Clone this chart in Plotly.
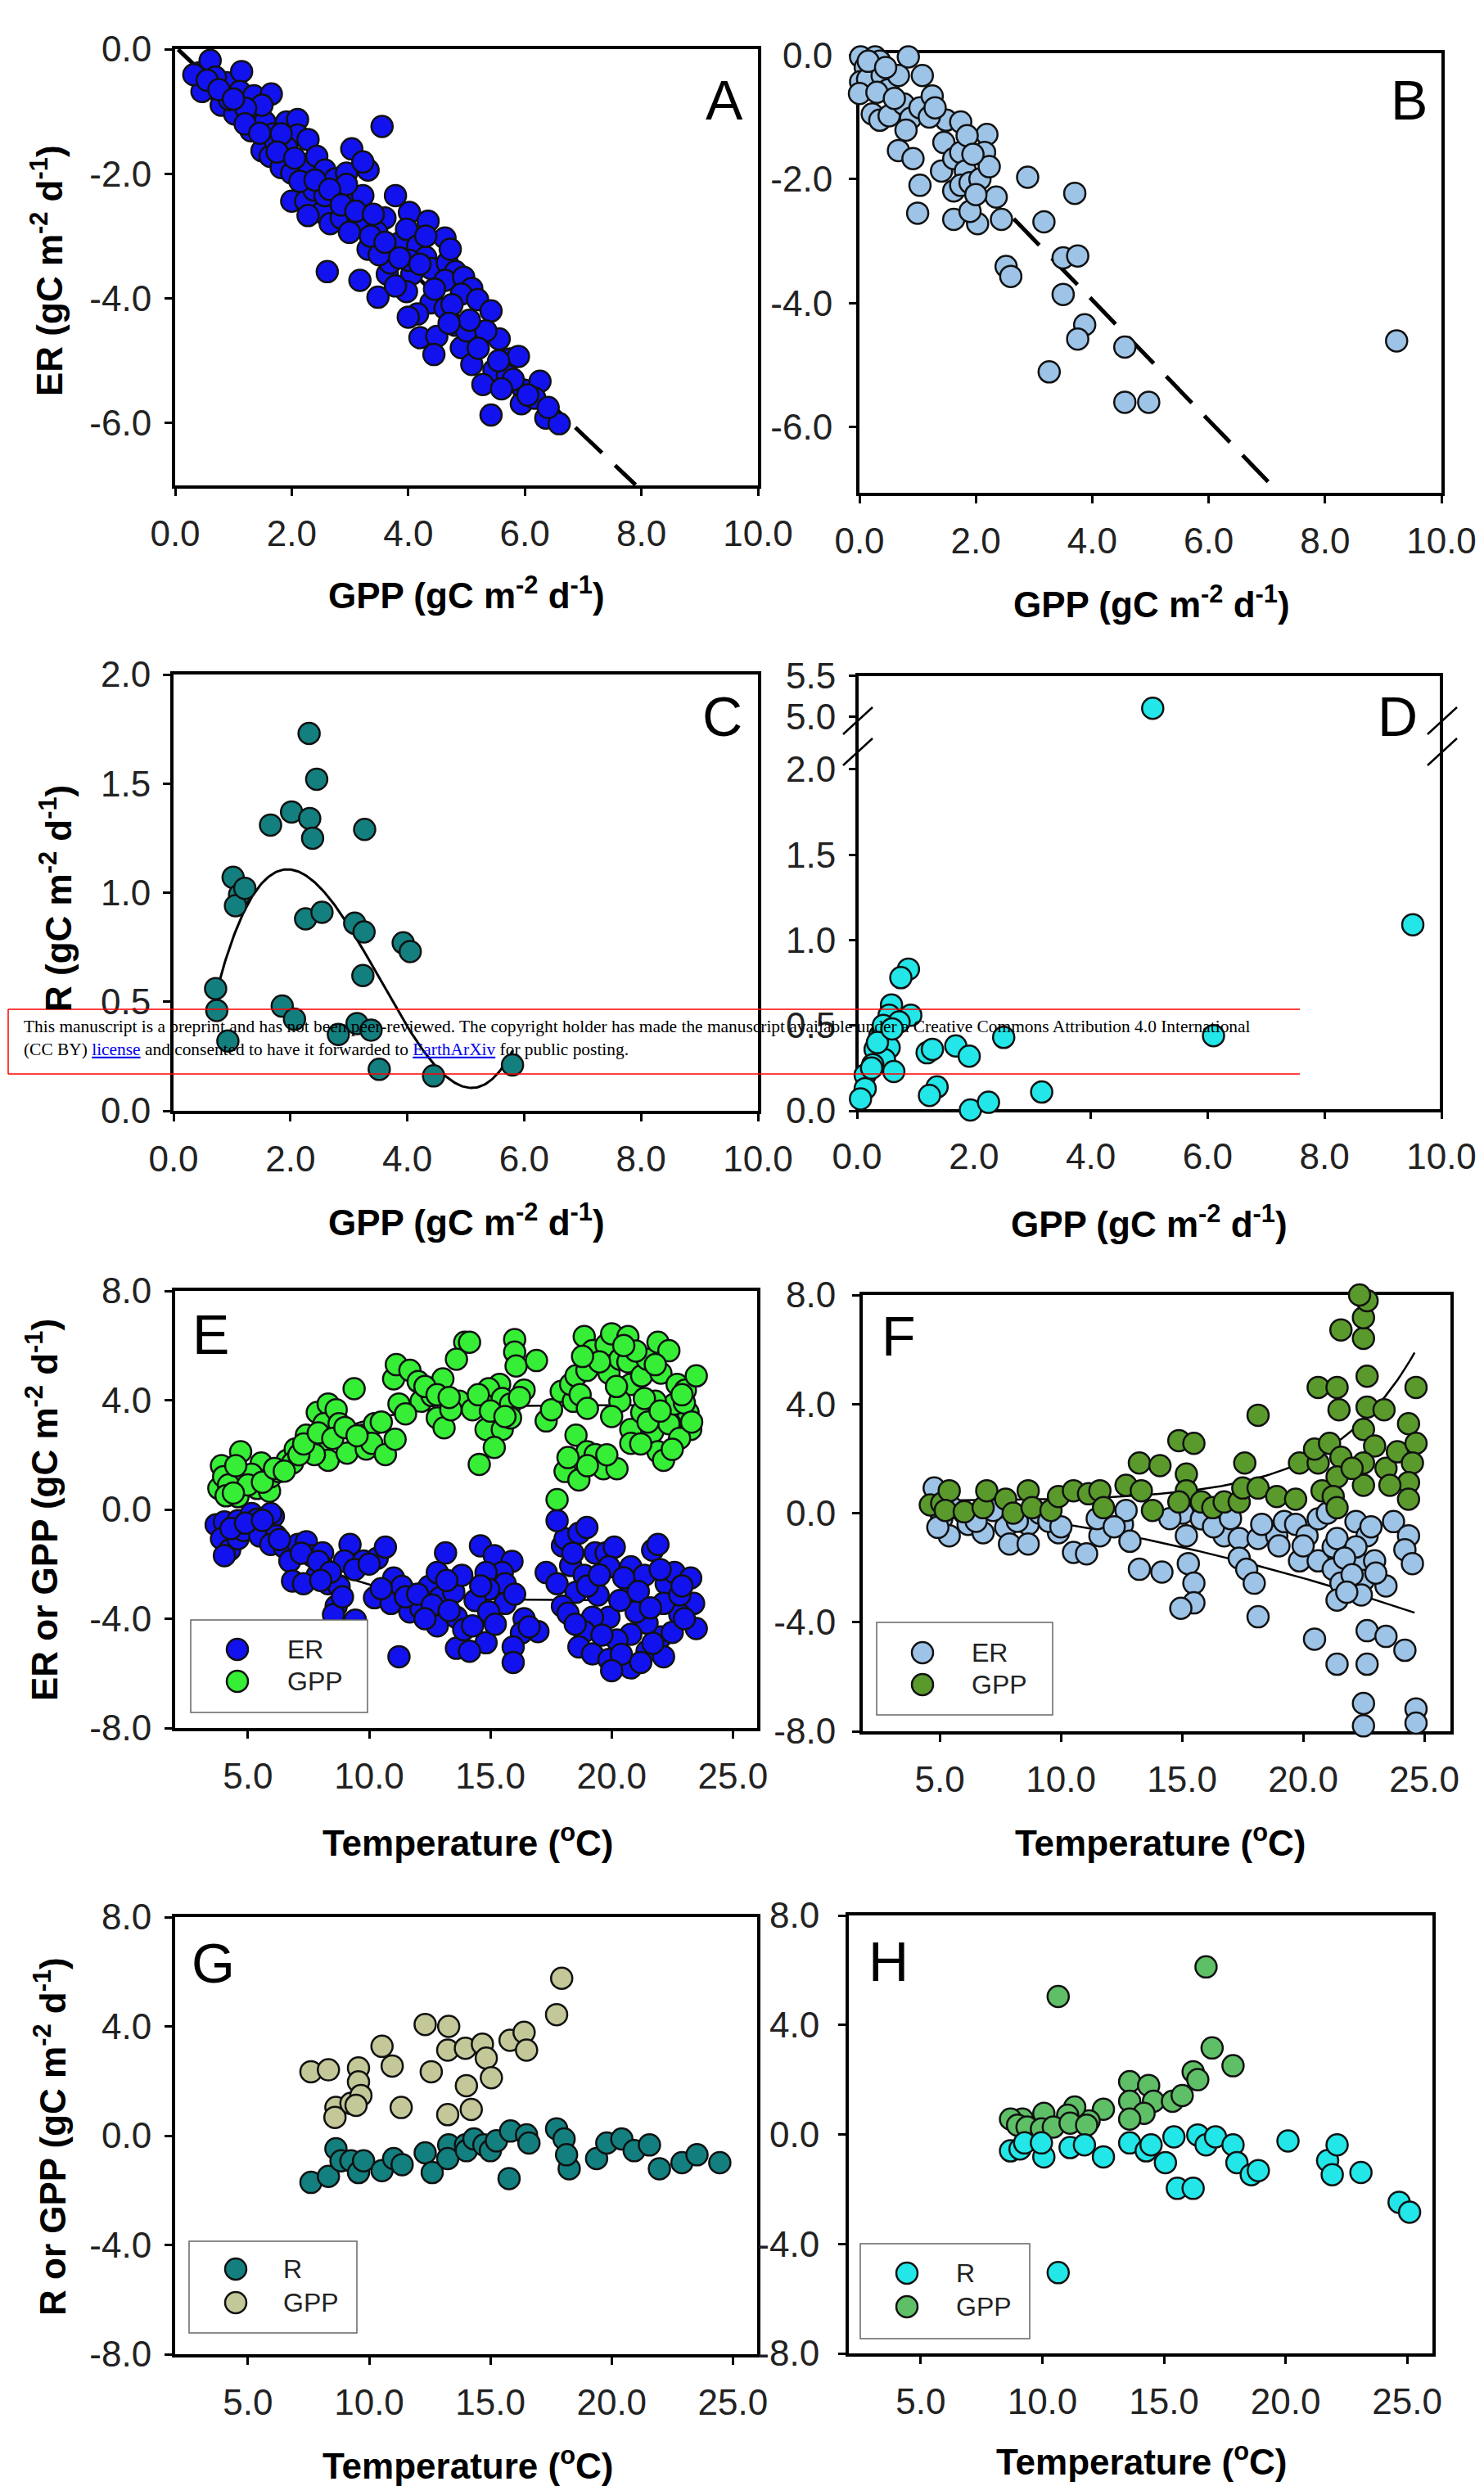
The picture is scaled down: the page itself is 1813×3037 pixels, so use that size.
import numpy as np
import plotly.graph_objects as go

W, H = 1813, 3037
SANS = "Liberation Sans, Arial, sans-serif"
SERIF = "Liberation Serif, Times New Roman, serif"

# ---------------- data ----------------
# A: daily ER vs GPP, site 1
A_GPP_ER = [(0.41,-0.38),(0.60,-0.18),(0.65,-0.63),(0.46,-0.68),(0.79,-0.90),(0.88,-0.54),(1.14,-0.36),(1.11,-0.68),
    (1.35,-0.75),(1.65,-0.72),(1.02,-1.04),(1.35,-1.08),(1.30,-1.31),(1.54,-1.17),(1.68,-1.36),(1.91,-1.17),(2.10,-1.13),
    (2.10,-1.38),(1.49,-1.63),(1.63,-1.72),(1.91,-1.58),(1.82,-1.90),(2.00,-1.99),(2.28,-1.45),(2.28,-1.85),(2.43,-1.72),
    (2.57,-1.94),(3.03,-1.60),(3.31,-1.94),(3.55,-1.24),(2.75,-2.08),(2.94,-1.99),(3.22,-1.81),(2.00,-2.44),(2.24,-2.44),
    (2.52,-2.62),(2.28,-2.67),(2.66,-2.80),(2.75,-2.35),(3.03,-2.44),(3.22,-2.35),(2.85,-2.71),(3.13,-2.80),(2.99,-2.94),
    (2.61,-3.57),(3.17,-3.71),(3.48,-3.98),(3.31,-3.21),(3.60,-2.71),(3.78,-2.35),(4.02,-2.62),(3.83,-3.12),(3.46,-2.94),
    (3.64,-3.61),(3.97,-2.89),(4.34,-2.76),(4.63,-3.03),(4.16,-3.16),(4.30,-3.34),(4.06,-3.61),(3.97,-3.89),(4.39,-3.52),
    (4.67,-3.43),(4.81,-3.57),(4.63,-3.71),(4.95,-3.66),(5.09,-3.84),(4.39,-4.07),(4.16,-4.25),(4.63,-4.16),(4.91,-3.93),
    (5.19,-4.02),(5.42,-4.20),(4.20,-4.63),(4.49,-4.61),(4.44,-4.90),(4.91,-4.79),(5.23,-4.61),(5.56,-4.65),(5.09,-5.06),
    (5.47,-5.15),(5.28,-5.38),(5.75,-4.97),(5.89,-4.93),(5.70,-5.24),(5.98,-5.47),(6.26,-5.33),(5.94,-5.69),(6.17,-5.60),
    (6.36,-5.92),(6.59,-6.01),(5.42,-5.87),(4.81,-4.43),(5.00,-4.52),(5.33,-4.52),(4.02,-3.39),(3.69,-3.43),(3.78,-3.80),
    (4.72,-3.21),(3.50,-3.30),(2.94,-2.17),(2.38,-2.26),(2.57,-2.35),(2.14,-2.12),(1.72,-1.49),(1.82,-1.36),(1.49,-0.90),
    (1.21,-0.95),(0.69,-0.45),(0.32,-0.41),(0.93,-0.81),(0.55,-0.50),(0.75,-0.65),(1.00,-0.80),(1.20,-1.20),(1.45,-1.35),
    (1.75,-1.65),(2.05,-1.75),(2.40,-2.10),(2.65,-2.25),(2.85,-2.50),(3.10,-2.60),(3.40,-2.65),(3.35,-3.00),(3.60,-3.10),
    (3.85,-3.35),(4.20,-3.45),(4.45,-3.85),(4.75,-4.10),(5.05,-4.35),(5.20,-4.80),(5.55,-5.00),(5.80,-5.30),(6.05,-5.55),
    (6.40,-5.75),(4.30,-3.00),(4.00,-4.30),(4.70,-4.40),(5.60,-5.45)]
A_FIT_INTERCEPT, A_FIT_SLOPE, A_FIT_X = 0.04, -0.89, [0.05, 7.90]

# B: daily ER vs GPP, site 2
B_GPP_ER = [(0.02,-0.03),(0.10,-0.20),(0.27,-0.03),(0.35,-0.10),(0.02,-0.43),(0.14,-0.39),(0.00,-0.62),(0.39,-0.33),
    (0.49,-0.56),(0.67,-0.33),(0.84,-0.03),(1.08,-0.33),(0.22,-0.95),(0.35,-1.05),(0.51,-0.98),(0.76,-0.79),(0.88,-1.02),
    (0.80,-1.21),(1.04,-0.85),(1.25,-0.66),(1.49,-1.05),(1.74,-1.08),(1.45,-1.41),(0.67,-1.54),(0.92,-1.67),(1.04,-2.10),
    (1.00,-2.55),(1.41,-1.87),(1.62,-1.67),(1.74,-1.57),(1.82,-1.87),(1.62,-2.19),(1.74,-2.10),(1.90,-2.06),(2.07,-2.00),
    (2.19,-1.28),(2.15,-1.57),(2.23,-1.80),(2.35,-2.29),(2.44,-2.65),(1.62,-2.65),(2.03,-2.72),(1.90,-2.52),(2.89,-1.97),
    (3.17,-2.69),(3.70,-2.23),(3.50,-3.27),(3.75,-3.24),(2.52,-3.41),(2.60,-3.57),(3.50,-3.86),(3.87,-4.35),(3.75,-4.58),
    (4.56,-4.71),(3.26,-5.11),(4.56,-5.60),(4.97,-5.60),(9.23,-4.61),(0.15,-0.10),(0.45,-0.20),(0.30,-0.60),(0.60,-0.70),
    (1.20,-1.00),(1.30,-0.85),(1.85,-1.30),(1.95,-1.60),(2.00,-2.25)]
B_FIT_INTERCEPT, B_FIT_SLOPE, B_FIT_X = -0.07, -0.97, [2.65, 7.15]

# C: daily R vs GPP, site 3
C_GPP_R = [(2.32,1.73),(2.45,1.52),(1.66,1.31),(2.02,1.37),(2.33,1.34),(2.38,1.25),(3.27,1.29),(1.02,1.07),(1.13,0.99),
    (1.06,0.94),(1.22,1.02),(2.26,0.88),(2.54,0.91),(3.10,0.86),(3.26,0.82),(3.24,0.62),(3.93,0.77),(4.05,0.73),(0.72,0.56),
    (0.74,0.46),(0.93,0.32),(1.86,0.48),(2.07,0.42),(2.82,0.35),(3.14,0.40),(3.38,0.37),(3.52,0.19),(4.45,0.16),(5.80,0.21)]
C_FIT_COEF = [-0.517, 1.909, -0.6768, 0.064]
C_FIT_X = [0.72, 5.80]

# D: daily R vs GPP, site 4 (broken y axis)
D_GPP_R = [(0.88,0.83),(0.75,0.78),(0.59,0.62),(0.55,0.56),(0.92,0.56),(0.72,0.52),(0.39,0.44),(0.55,0.37),(0.31,0.36),
    (0.47,0.30),(0.27,0.27),(0.63,0.23),(0.14,0.21),(0.14,0.13),(0.06,0.07),(1.20,0.34),(1.29,0.36),(1.69,0.38),
    (1.92,0.32),(2.51,0.43),(1.37,0.14),(1.24,0.09),(1.94,0.005),(2.25,0.05),(3.16,0.11),(6.10,0.44),(9.51,1.09),
    (0.45,0.50),(0.35,0.40),(0.25,0.25),(0.60,0.48)]
D_GPP_R_HIGH = [(5.06,5.10)]

# E: ER and GPP vs water temperature, site 1
E_TEMP_ER = [(3.69,-0.56),(4.03,-0.46),(4.59,-0.41),(5.15,-0.15),(5.38,-0.36),(5.72,-0.66),(6.05,-0.25),(5.94,-0.15),
    (3.91,-1.07),(4.25,-1.48),(4.03,-1.69),(4.59,-1.07),(4.82,-0.77),(5.49,-0.97),(6.17,-0.97),(5.94,-1.28),(6.50,-1.38),
    (6.73,-1.89),(7.07,-1.28),(7.41,-1.18),(7.63,-1.69),(8.08,-1.59),(8.08,-2.10),(7.86,-2.41),(6.84,-2.62),(7.29,-2.72),
    (8.31,-2.72),(8.76,-2.82),(8.64,-3.54),(8.53,-3.85),(9.21,-1.28),(8.98,-1.89),(9.77,-1.89),(10.33,-1.79),(10.67,-1.38),
    (11.01,-2.51),(10.22,-3.23),(10.90,-3.44),(11.35,-2.82),(11.68,-3.75),(12.14,-3.64),(12.47,-2.82),(12.81,-2.31),
    (13.15,-1.59),(12.92,-3.23),(12.81,-4.26),(13.49,-3.03),(13.82,-2.41),(13.60,-3.95),(13.60,-5.08),(11.23,-5.39),
    (9.43,-4.05),(4.30,-0.70),(4.90,-0.50),(5.60,-0.40),(6.30,-1.10),(7.20,-1.60),(7.90,-1.90),(8.40,-2.30),(9.40,-2.20),
    (10.00,-2.00),(10.50,-2.90),(11.50,-3.20),(12.00,-3.10),(12.60,-3.50),(13.20,-2.60),(13.30,-3.70),(13.90,-4.40),
    (8.90,-3.20),(8.00,-2.60),(12.30,-4.00),
    (14.59,-1.33),(15.16,-1.69),(15.89,-1.90),(15.49,-2.31),(14.82,-2.31),(15.61,-2.72),(14.93,-2.92),(14.37,-3.33),
    (15.61,-3.44),(16.39,-4.00),(16.96,-4.47),(16.28,-4.52),(15.94,-5.03),(15.94,-5.60),(14.82,-4.88),(14.14,-5.19),
    (14.26,-4.26),(14.93,-3.75),(17.30,-2.31),(17.75,-2.72),(17.97,-1.33),(18.08,-1.07),(18.65,-0.87),(18.98,-0.66),
    (17.75,-0.41),(18.31,-2.05),(18.87,-2.41),(18.53,-3.03),(19.32,-1.59),(19.77,-1.59),(20.11,-1.38),(19.89,-2.10),
    (20.79,-2.10),(20.79,-2.72),(21.35,-2.41),(21.69,-1.49),(21.91,-1.28),(22.25,-2.72),(22.59,-2.31),(23.26,-2.51),
    (23.38,-3.44),(23.49,-4.36),(22.81,-3.85),(22.14,-3.44),(22.03,-4.67),(21.46,-4.16),(21.01,-3.75),(20.79,-4.57),
    (20.22,-4.78),(19.89,-3.95),(19.21,-3.95),(18.87,-4.47),(18.65,-5.03),(19.21,-5.29),(19.89,-5.49),(20.79,-5.80),
    (21.46,-5.19),(22.14,-5.39),(22.81,-3.13),(19.44,-3.13),(20.34,-3.33),(17.97,-3.54),(14.60,-2.80),(15.20,-4.20),
    (16.00,-3.10),(16.60,-4.30),(18.20,-3.80),(18.40,-1.60),(19.00,-2.80),(19.60,-4.60),(20.40,-5.30),(20.50,-2.50),
    (21.10,-3.00),(21.60,-3.60),(22.00,-2.20),(22.50,-4.50),(23.00,-4.00),(21.20,-5.60),(20.00,-5.90),(19.50,-2.40),
    (22.90,-2.80),(21.70,-4.90),(18.50,-4.20)]
E_TEMP_GPP = [(4.70,2.11),(4.36,1.39),(4.70,1.13),(3.91,1.60),(3.80,0.77),(4.59,0.47),(5.38,0.77),(5.89,0.67),(5.55,1.70),
    (5.15,1.29),(5.94,1.19),(6.28,1.39),(6.62,1.80),(6.95,2.21),(6.84,1.70),(7.41,2.72),(7.63,2.21),(7.86,3.55),(8.31,3.86),
    (8.14,3.14),(8.64,3.65),(8.76,3.14),(8.19,2.51),(8.31,1.80),(7.74,2.01),(9.09,2.06),(9.38,4.42),(9.77,2.72),(9.88,2.21),
    (10.22,3.14),(10.11,2.42),(10.67,2.01),(11.07,2.57),(11.23,3.86),(11.01,4.78),(11.12,5.30),(11.68,5.09),(12.02,4.68),
    (12.14,3.96),(12.59,4.17),(12.81,3.35),(13.09,2.99),(13.04,4.78),(13.94,6.12),(13.60,5.50),(13.71,3.96),(13.37,3.65),
    (4.00,1.20),(4.20,0.90),(4.50,1.60),(5.00,0.90),(5.60,1.00),(6.10,1.50),(6.50,1.40),(7.10,2.00),(7.30,2.40),(7.90,2.80),
    (8.50,2.60),(9.00,3.00),(9.50,2.70),(10.50,3.20),(11.50,3.50),(12.30,4.50),(12.80,4.20),(13.30,4.10),(4.10,0.50),
    (4.40,0.60),
    (14.14,6.12),(16.00,6.22),(16.00,5.76),(16.06,5.25),(16.90,5.45),(15.38,4.58),(14.93,4.42),(14.71,3.86),(15.49,4.06),
    (15.83,3.86),(16.39,4.37),(14.26,3.65),(14.82,2.93),(15.49,2.93),(15.83,3.35),(15.16,2.27),(14.54,1.65),(17.30,3.24),
    (17.52,3.65),(17.92,4.32),(18.42,3.96),(18.31,4.58),(18.53,4.89),(18.87,6.33),(18.98,5.09),(19.21,5.81),(19.77,6.02),
    (20.00,6.43),(20.67,6.33),(19.89,4.99),(20.34,5.50),(20.67,5.40),(20.79,4.58),(21.24,4.89),(21.46,5.50),(21.91,6.12),
    (22.03,4.99),(22.36,5.81),(20.34,3.96),(20.79,2.93),(20.79,2.42),(21.24,3.55),(21.69,2.83),(21.91,2.11),(22.14,1.80),
    (22.36,3.14),(22.70,4.58),(23.04,4.37),(23.15,3.55),(23.49,4.89),(23.26,2.93),(18.53,2.72),(18.98,2.11),(19.32,2.01),
    (19.66,1.49),(20.22,1.49),(18.08,1.39),(18.65,1.08),(17.75,0.36),(22.59,3.86),(21.80,3.96),(21.35,4.06),(14.50,4.20),
    (15.00,3.60),(15.60,3.40),(16.20,4.10),(18.70,4.20),(19.00,3.70),(19.50,5.40),(20.20,4.50),(21.00,5.80),(21.50,3.20),
    (22.00,3.60),(22.80,2.60),(23.00,3.90),(19.80,2.00),(19.00,1.60),(21.20,2.40),(22.50,2.20),(18.20,1.90),(18.80,5.60),
    (20.50,6.00),(21.80,5.30),(22.90,4.20),(20.00,3.40),(23.30,3.20)]
E_GPP_FIT = dict(top=3.82, k=0.497, t0=6.37)
E_ER_FIT = dict(top=-3.33, k=0.50, t0=6.90)
E_FIT_T = [3.8, 23.5]

# F: ER and GPP vs water temperature, site 2
F_TEMP_ER = [(4.77,0.92),(4.92,0.20),(5.08,-0.21),(5.39,-0.83),(4.92,-0.52),(6.01,0.00),(6.17,-0.41),(6.79,-0.72),
    (7.72,-0.52),(7.88,-1.13),(8.65,-0.41),(8.65,-1.13),(9.12,0.00),(9.90,-0.72),(10.52,-1.44),(11.06,-1.49),(11.61,-0.83),
    (12.54,-0.41),(12.69,0.10),(12.85,-1.03),(13.24,-2.06),(14.17,-2.16),(15.03,0.00),(15.18,-0.83),(15.26,-1.85),
    (15.49,-2.57),(15.49,-3.29),(14.95,-3.49),(15.80,-0.21),(16.74,-0.83),(17.36,-0.93),(18.14,-0.93),(18.91,-0.83),
    (17.36,-1.65),(17.67,-2.06),(17.98,-2.57),(18.14,-3.80),(18.29,-0.41),(19.22,-0.31),(19.69,-0.41),(20.16,-0.83),
    (19.85,-1.75),(20.62,-1.75),(20.62,-0.21),(21.24,-1.24),(21.40,-0.93),(21.24,-2.06),(21.56,-2.57),(21.40,-3.19),
    (22.33,-1.85),(22.49,-2.47),(22.18,-0.31),(22.64,-0.83),(22.18,-1.24),(22.95,-1.75),(23.42,-2.67),(23.73,-0.31),
    (24.35,-0.83),(24.20,-1.34),(24.51,-1.85),(20.47,-4.62),(21.40,-5.54),(22.64,-5.54),(22.64,-4.31),(23.42,-4.52),
    (24.20,-5.03),(22.49,-6.98),(24.66,-7.18),(22.49,-7.80),(24.66,-7.70),(21.71,-1.65),(22.02,-2.26),(5.50,0.20),
    (6.50,-0.30),(7.20,0.10),(8.20,-0.30),(9.50,-0.30),(10.00,-0.50),(11.50,-0.20),(12.20,-0.50),(14.50,-0.20),
    (16.30,-0.50),(17.00,-0.20),(19.00,-1.20),(20.00,-1.20),(21.00,0.00),(22.40,-3.00),(21.80,-2.90),(23.00,-2.20),
    (22.80,-0.50),(22.60,-8.05)]
F_TEMP_GPP = [(4.61,0.30),(5.08,0.36),(5.39,0.82),(5.23,0.10),(6.01,0.05),(6.79,0.20),(6.94,0.82),(7.72,0.51),(8.03,0.00),
    (8.65,0.82),(8.81,0.20),(9.59,0.10),(9.90,0.61),(10.52,0.82),(11.14,0.71),(11.61,0.82),(11.76,0.20),(12.69,1.02),
    (13.32,0.82),(13.78,0.10),(13.24,1.84),(14.09,1.74),(14.87,2.66),(15.49,2.56),(15.18,1.43),(15.18,0.82),(14.87,0.41),
    (15.80,0.41),(16.27,0.20),(16.74,0.41),(17.36,0.41),(17.51,0.92),(17.59,1.84),(18.14,0.92),(18.91,0.61),(19.69,0.51),
    (18.14,3.59),(19.85,1.84),(20.62,1.84),(20.47,2.35),(21.09,2.56),(21.56,2.05),(20.78,0.82),(21.40,1.33),(21.24,0.61),
    (21.40,0.20),(20.62,4.61),(21.40,4.61),(21.48,3.79),(22.49,3.07),(22.64,3.89),(23.34,3.79),(22.64,5.02),(21.56,6.72),
    (22.49,6.41),(22.49,7.17),(22.64,7.79),(22.33,8.00),(22.95,2.46),(22.49,1.84),(23.42,1.64),(23.89,2.25),(24.35,3.28),
    (24.66,2.56),(24.51,1.84),(24.35,1.12),(24.35,0.51),(23.58,1.02),(22.49,1.02),(24.66,4.61),(22.02,1.64)]
F_GPP_FIT = dict(c=0.443, a=0.00456, b=0.288)
F_ER_FIT_COEF = [0.6175, -0.048, -0.0051]
F_FIT_T = [4.6, 24.6]

# G: R and GPP vs water temperature, site 3
G_TEMP_R = [(7.60,-1.71),(8.32,-1.49),(8.63,-0.48),(8.84,-0.92),(9.25,-0.92),(9.56,-1.35),(9.77,-0.92),(10.53,-1.28),
    (11.01,-0.84),(11.36,-1.06),(12.31,-0.63),(12.60,-1.35),(13.28,-0.34),(13.24,-0.84),(13.97,-0.34),(14.01,-0.55),
    (14.32,-0.12),(14.73,-0.34),(15.00,-0.55),(15.25,-0.19),(15.83,0.17),(15.77,-1.57),(16.49,0.03),(16.59,-0.27),
    (17.73,0.25),(18.04,-0.12),(18.25,-1.21),(18.14,-0.70),(19.38,-0.84),(19.80,-0.27),(20.42,-0.12),(20.93,-0.55),
    (21.56,-0.34),(21.97,-1.21),(22.90,-0.99),(23.52,-0.70),(24.46,-0.99)]
G_TEMP_GPP = [(7.60,2.34),(8.32,2.41),(8.63,1.03),(8.59,0.67),(9.25,1.18),(9.56,2.48),(9.56,1.97),(9.66,1.47),(9.46,1.11),
    (10.53,3.27),(10.95,2.55),(11.32,1.03),(12.31,4.07),(12.56,2.34),(13.28,4.00),(13.24,3.13),(13.24,0.77),(13.97,3.20),
    (14.01,1.83),(14.21,0.96),(14.67,3.35),(14.83,2.84),(15.04,2.12),(15.81,3.49),(16.39,3.78),(16.49,3.13),(17.73,4.43),
    (17.94,5.76)]

# H: R and GPP vs water temperature, site 4
H_TEMP_R = [(8.69,-0.60),(9.08,-0.53),(9.27,-0.31),(10.06,-0.82),(9.96,-0.31),(11.14,-0.48),(11.73,-0.38),(12.51,-0.82),
    (13.59,-0.31),(14.27,-0.60),(14.47,-0.38),(15.06,-1.03),(15.41,-0.09),(15.55,-1.97),(16.20,-1.97),(16.39,-0.02),
    (16.73,-0.38),(17.12,-0.09),(17.84,-0.38),(18.00,-1.03),(18.59,-1.47),(18.88,-1.32),(20.10,-0.24),(21.73,-0.96),
    (21.92,-1.47),(22.12,-0.38),(23.10,-1.39),(24.67,-2.48),(25.10,-2.84),(10.65,-5.05)]
H_TEMP_GPP = [(10.65,5.04),(16.73,6.12),(16.98,3.16),(17.84,2.51),(16.20,2.29),(16.39,2.00),(13.59,1.93),(14.37,1.79),
    (13.59,1.21),(14.57,1.21),(15.35,1.21),(15.75,1.42),(14.18,0.77),(13.59,0.56),(12.51,0.92),(11.92,0.49),(11.33,1.00),
    (11.04,0.70),(10.06,0.77),(9.18,0.56),(8.69,0.56),(8.98,0.34),(9.37,0.27),(9.96,0.20),(10.45,0.27),(11.14,0.41),
    (11.82,0.34)]

# tick labels
GPP_TICKS = [0, 2, 4, 6, 8, 10]
GPP_TICKTEXT = ["0.0", "2.0", "4.0", "6.0", "8.0", "10.0"]
ER_TICKS = [0, -2, -4, -6]
ER_TICKTEXT = ["0.0", "-2.0", "-4.0", "-6.0"]
R_TICKS = [0, 0.5, 1.0, 1.5, 2.0]
R_TICKTEXT = ["0.0", "0.5", "1.0", "1.5", "2.0"]
R_HIGH_TICKS = [5.0, 5.5]
R_HIGH_TICKTEXT = ["5.0", "5.5"]
TEMP_TICKS = [5, 10, 15, 20, 25]
TEMP_TICKTEXT = ["5.0", "10.0", "15.0", "20.0", "25.0"]
FLUX_TICKS = [-8, -4, 0, 4, 8]
FLUX_TICKTEXT = ["-8.0", "-4.0", "0.0", "4.0", "8.0"]

# ---------------- colours ----------------
BLUE = "#1212EE"
LIGHTBLUE = "#9DC3E6"
TEAL = "#137F7F"
CYAN = "#22E6E8"
LIME = "#36EE36"
OLIVE = "#5A9A2C"
KHAKI = "#C4C898"
MIDGREEN = "#5FBF66"

# ---------------- layout geometry (pixels) ----------------
BOX = {
    "A": (214, 60, 926, 593),
    "B": (1050, 65, 1761, 602),
    "C": (212, 824, 926, 1357),
    "D": (1047, 824, 1761, 1357),
    "E": (214, 1577, 925, 2111),
    "F": (1054, 1582, 1772, 2115),
    "G": (214, 2342, 925, 2876),
    "H": (1037, 2340, 1750, 2875),
}
D_LOW_TOP, D_HIGH_BOTTOM = 919, 881


def fx(px):
    return px / W


def fy(py):
    return 1 - py / H


def xdom(key):
    l, t, r, b = BOX[key]
    return [fx(l), fx(r)]


def ydom(top, bottom):
    return [fy(bottom), fy(top)]


def unzip(points):
    return [p[0] for p in points], [p[1] for p in points]


TICK_SIZE = 44


def axis_style(**kw):
    d = dict(showgrid=False, zeroline=False, ticks="outside", ticklen=9, tickwidth=2.5,
             tickcolor="black", showline=True, mirror=True, linecolor="black", linewidth=4,
             layer="below traces", tickmode="array", automargin=False,
             tickfont=dict(family=SANS, size=TICK_SIZE, color="#222"))
    d.update(kw)
    return d


fig = go.Figure()

MARK_SIZE = 26
MARK_LINE = dict(color="#111", width=2.5)


def pts(points, color, xa, ya):
    x, y = unzip(points)
    fig.add_trace(go.Scatter(x=x, y=y, mode="markers", xaxis=xa, yaxis=ya, cliponaxis=False,
                             marker=dict(size=MARK_SIZE, color=color, line=MARK_LINE),
                             hoverinfo="skip"))


def curve(x, y, xa, ya, dash="solid", width=2.5):
    fig.add_trace(go.Scatter(x=x, y=y, mode="lines", xaxis=xa, yaxis=ya,
                             line=dict(color="black", width=width, dash=dash), hoverinfo="skip"))


# A
xa = np.array(A_FIT_X)
curve(xa, A_FIT_INTERCEPT + A_FIT_SLOPE * xa, "x", "y", dash="45px,22px", width=5)
pts(A_GPP_ER, BLUE, "x", "y")
# B
xb = np.array(B_FIT_X)
curve(xb, B_FIT_INTERCEPT + B_FIT_SLOPE * xb, "x2", "y2", dash="45px,22px", width=5)
pts(B_GPP_ER, LIGHTBLUE, "x2", "y2")
# C
xc = np.linspace(C_FIT_X[0], C_FIT_X[1], 200)
curve(xc, np.polyval(C_FIT_COEF[::-1], xc), "x3", "y3", width=3)
pts(C_GPP_R, TEAL, "x3", "y3")
# D
pts(D_GPP_R, CYAN, "x4", "y4")
pts(D_GPP_R_HIGH, CYAN, "x4", "y9")
# E
te = np.linspace(E_FIT_T[0], E_FIT_T[1], 200)
curve(te, E_GPP_FIT["top"] / (1 + np.exp(-E_GPP_FIT["k"] * (te - E_GPP_FIT["t0"]))), "x5", "y5")
curve(te, E_ER_FIT["top"] / (1 + np.exp(-E_ER_FIT["k"] * (te - E_ER_FIT["t0"]))), "x5", "y5")
pts(E_TEMP_ER, BLUE, "x5", "y5")
pts(E_TEMP_GPP, LIME, "x5", "y5")
# F
tf = np.linspace(F_FIT_T[0], F_FIT_T[1], 200)
curve(tf, F_GPP_FIT["c"] + F_GPP_FIT["a"] * np.exp(F_GPP_FIT["b"] * tf), "x6", "y6")
curve(tf, np.polyval(F_ER_FIT_COEF[::-1], tf), "x6", "y6")
pts(F_TEMP_ER, LIGHTBLUE, "x6", "y6")
pts(F_TEMP_GPP, OLIVE, "x6", "y6")
# G
pts(G_TEMP_GPP, KHAKI, "x7", "y7")
pts(G_TEMP_R, TEAL, "x7", "y7")
# H
pts(H_TEMP_GPP, MIDGREEN, "x8", "y8")
pts(H_TEMP_R, CYAN, "x8", "y8")

X_STANDOFF = 8
layout = dict(
    width=W, height=H, margin=dict(l=0, r=0, t=0, b=0, autoexpand=False), showlegend=False,
    plot_bgcolor="white", paper_bgcolor="white",
    xaxis=axis_style(domain=xdom("A"), range=[0, 10], anchor="y", tickvals=GPP_TICKS, ticktext=GPP_TICKTEXT,
                     ticklabelstandoff=X_STANDOFF),
    yaxis=axis_style(domain=ydom(BOX["A"][1], BOX["A"][3]), range=[-7, 0], anchor="x", tickvals=ER_TICKS,
                     ticktext=ER_TICKTEXT, ticklabelstandoff=7),
    xaxis2=axis_style(domain=xdom("B"), range=[0, 10], anchor="y2", tickvals=GPP_TICKS, ticktext=GPP_TICKTEXT,
                      ticklabelstandoff=X_STANDOFF),
    yaxis2=axis_style(domain=ydom(BOX["B"][1], BOX["B"][3]), range=[-7.06, 0.03], anchor="x2", tickvals=ER_TICKS,
                      ticktext=ER_TICKTEXT, ticklabelstandoff=11),
    xaxis3=axis_style(domain=xdom("C"), range=[0, 10], anchor="y3", tickvals=GPP_TICKS, ticktext=GPP_TICKTEXT,
                      ticklabelstandoff=X_STANDOFF),
    yaxis3=axis_style(domain=ydom(BOX["C"][1], BOX["C"][3]), range=[0, 2], anchor="x3", tickvals=R_TICKS,
                      ticktext=R_TICKTEXT, ticklabelstandoff=6),
    xaxis4=axis_style(domain=xdom("D"), range=[0, 10], anchor="y4", tickvals=GPP_TICKS, ticktext=GPP_TICKTEXT,
                      ticklabelstandoff=X_STANDOFF, showline=False, mirror=False),
    yaxis4=axis_style(domain=ydom(D_LOW_TOP, BOX["D"][3]), range=[0, 2.10], anchor="x4", tickvals=R_TICKS,
                      ticktext=R_TICKTEXT, ticklabelstandoff=7, showline=False, mirror=False),
    yaxis9=axis_style(domain=ydom(BOX["D"][1], D_HIGH_BOTTOM), range=[4.94, 5.52], anchor="x4",
                      tickvals=R_HIGH_TICKS, ticktext=R_HIGH_TICKTEXT, ticklabelstandoff=7,
                      showline=False, mirror=False),
    xaxis5=axis_style(domain=xdom("E"), range=[2, 26], anchor="y5", tickvals=TEMP_TICKS, ticktext=TEMP_TICKTEXT,
                      ticklabelstandoff=X_STANDOFF),
    yaxis5=axis_style(domain=ydom(BOX["E"][1], BOX["E"][3]), range=[-8, 8], anchor="x5", tickvals=FLUX_TICKS,
                      ticktext=FLUX_TICKTEXT, ticklabelstandoff=7),
    xaxis6=axis_style(domain=xdom("F"), range=[1.82, 26.08], anchor="y6", tickvals=TEMP_TICKS,
                      ticktext=TEMP_TICKTEXT, ticklabelstandoff=X_STANDOFF),
    yaxis6=axis_style(domain=ydom(BOX["F"][1], BOX["F"][3]), range=[-8, 8], anchor="x6", tickvals=FLUX_TICKS,
                      ticktext=FLUX_TICKTEXT, ticklabelstandoff=11),
    xaxis7=axis_style(domain=xdom("G"), range=[2, 26], anchor="y7", tickvals=TEMP_TICKS, ticktext=TEMP_TICKTEXT,
                      ticklabelstandoff=X_STANDOFF),
    yaxis7=axis_style(domain=ydom(BOX["G"][1], BOX["G"][3]), range=[-8, 8], anchor="x7", tickvals=FLUX_TICKS,
                      ticktext=FLUX_TICKTEXT, ticklabelstandoff=7),
    xaxis8=axis_style(domain=xdom("H"), range=[2.04, 26.04], anchor="y8", tickvals=TEMP_TICKS,
                      ticktext=TEMP_TICKTEXT, ticklabelstandoff=X_STANDOFF),
    yaxis8=axis_style(domain=ydom(BOX["H"][1], BOX["H"][3]), range=[-8, 8], anchor="x8", tickvals=FLUX_TICKS,
                      ticktext=FLUX_TICKTEXT, ticklabelstandoff=14),
)
fig.update_layout(**layout)

annotations = []
shapes = []


def ann(text, px, py, size, angle=0, family=SANS, xanchor="center", color="black"):
    annotations.append(dict(text=text, x=fx(px), y=fy(py), xref="paper", yref="paper", showarrow=False,
                            xanchor=xanchor, yanchor="middle", textangle=angle,
                            font=dict(family=family, size=size, color=color)))


UNITS = " (gC m<sup>-2</sup> d<sup>-1</sup>)"
TITLE_SIZE = 44
# y titles
ann("<b>ER" + UNITS + "</b>", 57, 331, TITLE_SIZE, angle=-90)
ann("<b>R" + UNITS + "</b>", 68, 1098, TITLE_SIZE, angle=-90)
ann("<b>ER or GPP" + UNITS + "</b>", 52, 1845, TITLE_SIZE, angle=-90)
ann("<b>R or GPP" + UNITS + "</b>", 61, 2610, TITLE_SIZE, angle=-90)
# x titles
for px, py in [(570, 724), (1407, 736), (570, 1490), (1404, 1492)]:
    ann("<b>GPP" + UNITS + "</b>", px, py, TITLE_SIZE)
for px, py in [(571, 2248), (1417, 2248), (571, 3009), (1394, 3004)]:
    ann("<b>Temperature (<sup>o</sup>C)</b>", px, py, TITLE_SIZE)
# panel letters
for letter, px, py in [("A", 885, 122), ("B", 1721, 122), ("C", 882, 875), ("D", 1707, 875),
                       ("E", 257, 1630), ("F", 1098, 1632), ("G", 260, 2398), ("H", 1085, 2396)]:
    ann(letter, px, py, 68)

# legends
LEGENDS = [
    ((233, 1979, 449, 2092), 290, 349, [(2015, BLUE, "ER"), (2054, LIME, "GPP")]),
    ((1071, 1982, 1286, 2095), 1127, 1185, [(2019, LIGHTBLUE, "ER"), (2058, OLIVE, "GPP")]),
    ((231, 2738, 436, 2850), 288, 344, [(2772, TEAL, "R"), (2813, KHAKI, "GPP")]),
    ((1051, 2741, 1258, 2857), 1108, 1166, [(2777, CYAN, "R"), (2818, MIDGREEN, "GPP")]),
]
R_LEG = 13
for (l, t, r, b), mx, tx, rows in LEGENDS:
    shapes.append(dict(type="rect", xref="paper", yref="paper", x0=fx(l), x1=fx(r), y0=fy(b), y1=fy(t),
                       line=dict(color="#666", width=1.5), fillcolor="white", layer="above"))
    for py, col, label in rows:
        shapes.append(dict(type="circle", xref="paper", yref="paper", x0=fx(mx - R_LEG), x1=fx(mx + R_LEG),
                           y0=fy(py + R_LEG), y1=fy(py - R_LEG), line=dict(color="#111", width=2.5),
                           fillcolor=col, layer="above"))
        ann(label, tx, py, 32, xanchor="left", color="#222")

# D: frame and axis-break marks
l, t, r, b = BOX["D"]
shapes.append(dict(type="rect", xref="paper", yref="paper", x0=fx(l), x1=fx(r), y0=fy(b), y1=fy(t),
                   line=dict(color="black", width=4), layer="below"))
for cx in (l, r):
    for cy in (D_HIGH_BOTTOM, D_LOW_TOP):
        shapes.append(dict(type="line", xref="paper", yref="paper", x0=fx(cx - 17), x1=fx(cx + 19),
                           y0=fy(cy + 16), y1=fy(cy - 17), line=dict(color="black", width=2.5), layer="above"))

# preprint notice
NOTICE_L, NOTICE_T, NOTICE_R, NOTICE_B = 10, 1233, 1588, 1312
for x0, y0, x1, y1 in [(NOTICE_L, NOTICE_T, NOTICE_R, NOTICE_T), (NOTICE_L, NOTICE_B, NOTICE_R, NOTICE_B),
                       (NOTICE_L, NOTICE_T, NOTICE_L, NOTICE_B)]:
    shapes.append(dict(type="line", xref="paper", yref="paper", x0=fx(x0), x1=fx(x1), y0=fy(y0), y1=fy(y1),
                       line=dict(color="#FF0000", width=1.5), layer="above"))
LINK = '<span style="color:#0000EE"><u>{}</u></span>'
notice = ("This manuscript is a preprint and has not been peer-reviewed. The copyright holder has made the "
          "manuscript available under a Creative Commons Attribution 4.0 International<br>"
          "(CC BY) " + LINK.format("license") + " and consented to have it forwarded to "
          + LINK.format("EarthArXiv") + " for public posting.")
annotations.append(dict(text=notice, x=fx(27), y=fy(1268), xref="paper", yref="paper", showarrow=False,
                        xanchor="left", yanchor="middle", align="left",
                        font=dict(family=SERIF, size=21.4, color="black")))

fig.update_layout(annotations=annotations, shapes=shapes)
fig.write_html("out.html")
